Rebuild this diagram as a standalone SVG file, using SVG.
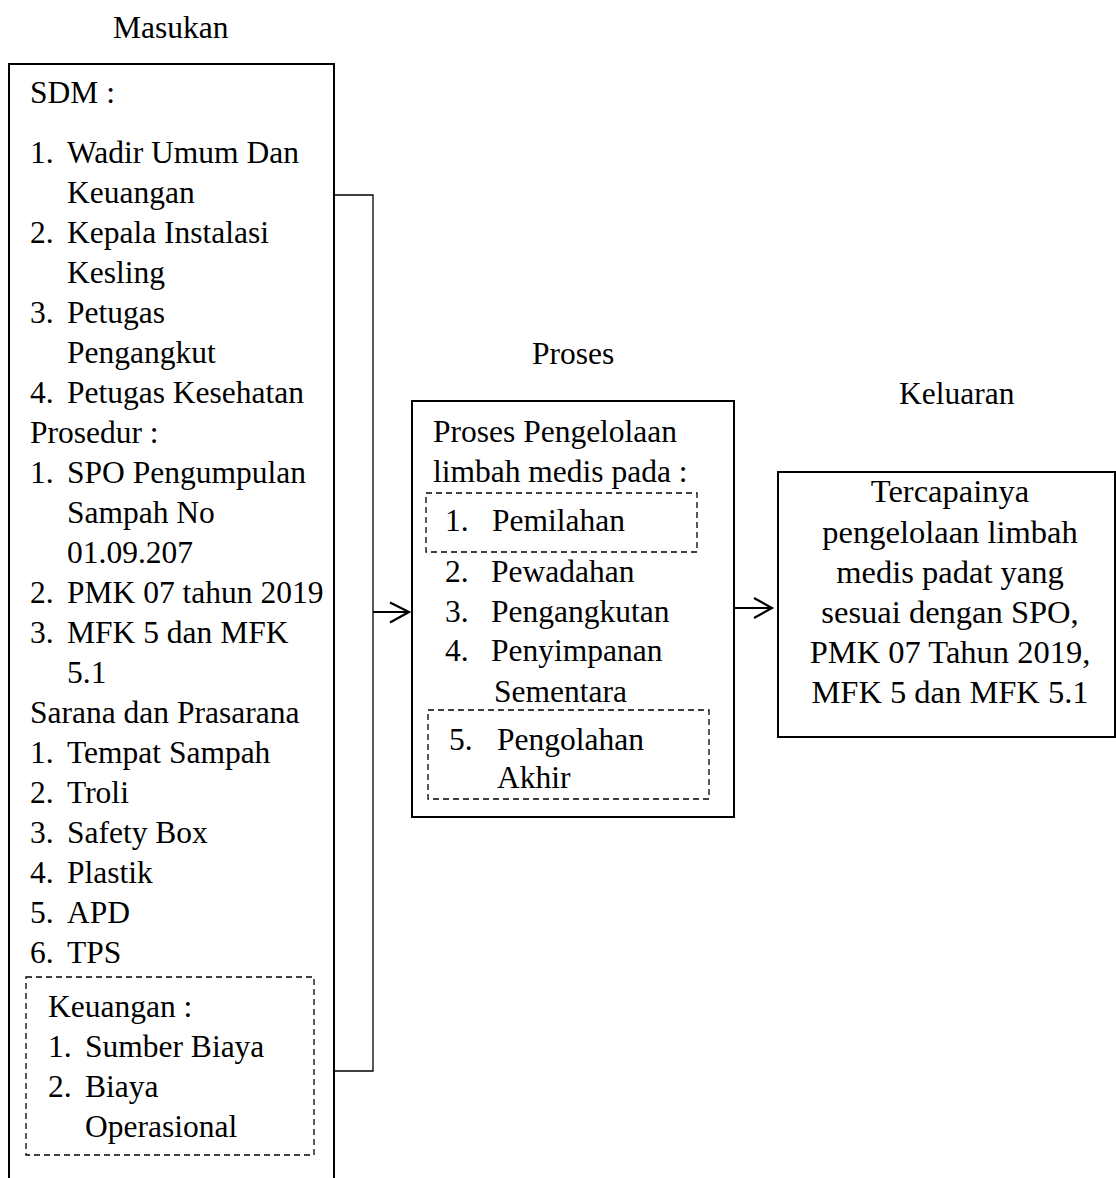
<svg xmlns="http://www.w3.org/2000/svg" width="1116" height="1178" viewBox="0 0 1116 1178">
<style>
text{font-family:"Liberation Serif","Times New Roman",serif;font-size:31.5px;fill:#000}
.box{fill:none;stroke:#000;stroke-width:2}
.dash{fill:none;stroke:#000;stroke-width:1.3;stroke-dasharray:6 4}
.conn{fill:none;stroke:#000;stroke-width:1.3}
.arrow{fill:none;stroke:#000;stroke-width:2.2}
.mid{text-anchor:middle}
.out{font-size:32.5px}
</style>
<rect width="1116" height="1178" fill="#fff"/>
<g id="title-masukan"><text x="113" y="38">Masukan</text></g>
<g id="title-proses"><text x="532" y="364">Proses</text></g>
<g id="title-keluaran"><text x="899" y="404">Keluaran</text></g>

<g id="masukan">
<path class="box" d="M9,1180 V64 H334 V1180"/>
<text x="30" y="103">SDM :</text>
<text x="30" y="163">1.</text><text x="67" y="163">Wadir Umum Dan</text>
<text x="67" y="203">Keuangan</text>
<text x="30" y="243">2.</text><text x="67" y="243">Kepala Instalasi</text>
<text x="67" y="283">Kesling</text>
<text x="30" y="323">3.</text><text x="67" y="323">Petugas</text>
<text x="67" y="363">Pengangkut</text>
<text x="30" y="403">4.</text><text x="67" y="403">Petugas Kesehatan</text>
<text x="30" y="443">Prosedur :</text>
<text x="30" y="483">1.</text><text x="67" y="483">SPO Pengumpulan</text>
<text x="67" y="523">Sampah No</text>
<text x="67" y="563">01.09.207</text>
<text x="30" y="603">2.</text><text x="67" y="603">PMK 07 tahun 2019</text>
<text x="30" y="643">3.</text><text x="67" y="643">MFK 5 dan MFK</text>
<text x="67" y="683">5.1</text>
<text x="30" y="723">Sarana dan Prasarana</text>
<text x="30" y="763">1.</text><text x="67" y="763">Tempat Sampah</text>
<text x="30" y="803">2.</text><text x="67" y="803">Troli</text>
<text x="30" y="843">3.</text><text x="67" y="843">Safety Box</text>
<text x="30" y="883">4.</text><text x="67" y="883">Plastik</text>
<text x="30" y="923">5.</text><text x="67" y="923">APD</text>
<text x="30" y="963">6.</text><text x="67" y="963">TPS</text>
<rect class="dash" x="26" y="977" width="288" height="178"/>
<text x="48" y="1017">Keuangan :</text>
<text x="48" y="1057">1.</text><text x="85" y="1057">Sumber Biaya</text>
<text x="48" y="1097">2.</text><text x="85" y="1097">Biaya</text>
<text x="85" y="1137">Operasional</text>
</g>

<g id="proses">
<rect class="box" x="412" y="401" width="322" height="416"/>
<text x="433" y="442">Proses Pengelolaan</text>
<text x="433" y="482">limbah medis pada :</text>
<rect class="dash" x="426" y="493" width="271" height="59"/>
<text x="445" y="531">1.</text><text x="492" y="531">Pemilahan</text>
<text x="445" y="582">2.</text><text x="491" y="582">Pewadahan</text>
<text x="445" y="622">3.</text><text x="491" y="622">Pengangkutan</text>
<text x="445" y="661">4.</text><text x="491" y="661">Penyimpanan</text>
<text x="494" y="702">Sementara</text>
<rect class="dash" x="428" y="710" width="281" height="89"/>
<text x="449" y="750">5.</text><text x="497" y="750">Pengolahan</text>
<text x="497" y="788">Akhir</text>
</g>

<g id="keluaran">
<rect class="box" x="778" y="472" width="337" height="265"/>
<text class="mid out" x="950" y="502">Tercapainya</text>
<text class="mid out" x="950" y="543">pengelolaan limbah</text>
<text class="mid out" x="950" y="583">medis padat yang</text>
<text class="mid out" x="950" y="623">sesuai dengan SPO,</text>
<text class="mid out" x="950" y="663">PMK 07 Tahun 2019,</text>
<text class="mid out" x="950" y="703">MFK 5 dan MFK 5.1</text>
</g>

<g id="connectors">
<path class="conn" d="M334,195 H373 V1071 H334"/>
<path class="arrow" d="M373,612 H409 M390,602.5 L409,612 L390,622.5"/>
<path class="arrow" d="M734,608 H772 M754,598 L772,608 L754,618"/>
</g>
</svg>
